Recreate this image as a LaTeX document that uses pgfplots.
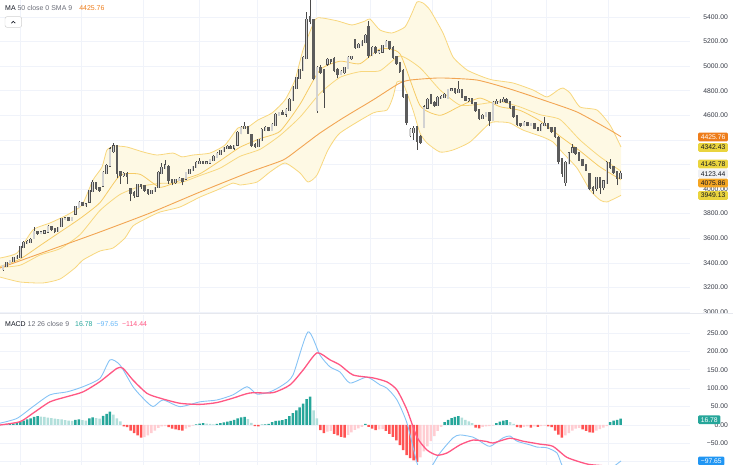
\documentclass[border=0pt]{standalone}
\usepackage{pgfplots}
\pgfplotsset{compat=1.18}
\usepackage{pgfplotstable}
\usepackage{fontspec}
\setmainfont{Liberation Sans}
\definecolor{gridc}{HTML}{F0F3FA}
\definecolor{sepc}{HTML}{E6E8EE}
\definecolor{ticktext}{HTML}{363A45}
\definecolor{legdark}{HTML}{131722}
\definecolor{leggray}{HTML}{6A6D78}
\definecolor{wickc}{HTML}{4A4A4A}
\definecolor{upedge}{HTML}{505050}
\definecolor{upfill}{HTML}{D2D2D2}
\definecolor{downfill}{HTML}{5C5C5C}
\definecolor{bbline}{HTML}{F8D77E}
\definecolor{bbfill}{HTML}{FEF9E4}
\definecolor{fastline}{HTML}{F6CB66}
\definecolor{maline}{HTML}{F2A553}
\definecolor{maorange}{HTML}{EE7D1B}
\definecolor{tagyellow}{HTML}{EAD43E}
\definecolor{tagamber}{HTML}{F5A623}
\definecolor{tagwhite}{HTML}{F0F1F4}
\definecolor{hteal}{HTML}{26A69A}
\definecolor{hlteal}{HTML}{B2DFDB}
\definecolor{hred}{HTML}{FF5252}
\definecolor{hlred}{HTML}{FFCDD2}
\definecolor{macdblue}{HTML}{86C3F5}
\definecolor{sigpink}{HTML}{FF5783}
\definecolor{tagblue}{HTML}{2196F3}

\pgfplotstableread{
x o h l c m k
3.00 3350 3385 3335 3374 2 1
6.45 3374 3410 3365 3398 3 1
9.90 3398 3425 3390 3414 3 1
13.35 3414 3450 3405 3439 4 1
16.80 3439 3462 3430 3447 6 1
20.25 3447 3540 3440 3528 8 1
23.70 3528 3575 3520 3561 12 1
27.15 3561 3585 3550 3569 15 1
30.60 3569 3600 3560 3585 18 1
34.05 3600 3690 3595 3651 22 1
37.50 3651 3660 3630 3642 24 1
40.95 3642 3658 3632 3648 23 2
44.40 3648 3665 3638 3655 22 2
47.85 3655 3705 3650 3691 20 2
51.30 3691 3700 3662 3675 19 2
54.75 3675 3685 3640 3659 17 2
58.20 3659 3695 3650 3683 16 2
61.65 3700 3768 3695 3756 15 2
65.10 3756 3770 3745 3760 13 2
68.55 3760 3765 3738 3748 12 2
72.00 3748 3775 3740 3764 11 2
75.45 3800 3865 3790 3854 14 1
78.90 3854 3900 3845 3887 15 1
82.35 3887 3895 3862 3870 13 2
85.80 3870 3885 3858 3875 12 2
89.25 3900 3995 3895 3984 18 1
92.70 3984 4070 3975 4049 21 1
96.15 4049 4055 3995 4009 19 2
99.60 4009 4020 3980 3992 17 2
103.05 4030 4145 4025 4131 25 1
106.50 4131 4200 4120 4188 30 1
109.95 4190 4340 4180 4320 36 1
113.40 4310 4378 4295 4345 28 2
116.85 4345 4360 4090 4135 18 2
120.30 4135 4150 4040 4114 10 2
123.75 4114 4140 4100 4122 -4 3
127.20 4122 4135 4040 4110 -6 3
130.65 4000 4010 3900 3968 -15 3
134.10 3968 3985 3930 3952 -22 3
137.55 3945 4045 3935 4033 -28 3
141.00 4033 4045 4000 4025 -34 3
144.45 4025 4030 3980 3992 -33 4
147.90 3992 4000 3955 3968 -28 4
151.35 3968 3995 3960 3984 -22 4
154.80 3984 4020 3978 4009 -15 4
158.25 4015 4145 4010 4131 -8 4
161.70 4131 4212 4120 4171 -4 4
165.15 4171 4236 4160 4190 -3 4
168.60 4180 4195 4040 4074 -6 3
172.05 4074 4085 4030 4057 -10 3
175.50 4057 4085 4045 4074 -12 3
178.95 4074 4095 4065 4082 -14 3
182.40 4082 4090 4030 4070 -15 3
185.85 4085 4140 4080 4131 -10 4
189.30 4131 4165 4125 4155 -6 4
192.75 4155 4190 4150 4179 -2 4
196.20 4179 4225 4170 4212 2 1
199.65 4212 4253 4205 4220 4 1
203.10 4220 4230 4200 4210 5 1
206.55 4210 4225 4200 4217 4 2
210.00 4217 4245 4205 4236 3 2
213.45 4236 4275 4228 4261 2 2
216.90 4261 4298 4255 4285 3 1
220.35 4285 4320 4280 4310 5 1
223.80 4310 4345 4300 4334 7 1
227.25 4334 4355 4325 4342 9 1
230.70 4342 4360 4330 4336 11 1
234.15 4336 4360 4320 4350 14 1
237.60 4360 4470 4350 4456 18 1
241.05 4456 4510 4445 4497 21 1
244.50 4497 4545 4490 4505 22 1
247.95 4505 4515 4450 4460 16 2
251.40 4440 4450 4340 4358 6 2
254.85 4358 4375 4335 4350 -3 3
258.30 4350 4410 4345 4399 -4 3
261.75 4399 4495 4390 4480 1 1
265.20 4480 4510 4470 4497 2 1
268.65 4497 4505 4470 4480 3 1
272.10 4480 4535 4475 4521 8 1
275.55 4521 4615 4515 4603 11 1
279.00 4603 4630 4595 4619 12 1
282.45 4619 4640 4605 4612 13 1
285.90 4612 4660 4590 4643 16 1
289.35 4643 4740 4635 4725 24 1
292.80 4725 4835 4715 4822 32 1
296.25 4822 4915 4815 4904 40 1
299.70 4904 4980 4895 4969 48 1
303.15 4969 5080 4960 5066 58 1
306.60 5066 5440 5055 5376 70 1
310.05 5395 5535 5340 5370 77 1
313.50 5370 5385 4885 4904 40 2
316.95 4643 5000 4620 4985 18 2
320.40 4985 5010 4935 4952 -14 3
323.85 4969 4975 4660 4790 -22 3
327.30 5020 5070 5000 5050 -18 4
330.75 5050 5060 5020 5040 -16 4
334.20 5060 5075 4950 4969 -24 3
337.65 4969 4985 4900 4936 -28 3
341.10 4936 4965 4925 4952 -32 3
344.55 4952 4995 4940 4985 -34 3
348.00 4985 5080 4975 5066 -27 4
351.45 5066 5085 5050 5075 -20 4
354.90 5213 5225 5140 5156 -13 4
358.35 5156 5185 5145 5172 -9 4
361.80 5172 5210 5160 5197 -5 4
365.25 5197 5260 5185 5245 3 1
368.70 5318 5370 5070 5091 -5 3
372.15 5091 5160 5080 5148 -10 3
375.60 5148 5160 5100 5115 -14 3
379.05 5115 5130 5100 5120 -12 4
382.50 5120 5175 5105 5164 -11 4
385.95 5164 5210 5155 5197 -16 3
389.40 5197 5205 5135 5148 -24 3
392.85 5148 5160 5060 5074 -32 3
396.30 5074 5085 5010 5026 -42 3
399.75 5026 5035 4945 4960 -55 3
403.20 4960 4975 4740 4760 -68 3
406.65 4760 4770 4520 4545 -82 3
410.10 4440 4500 4420 4480 -90 3
413.55 4465 4510 4400 4490 -96 3
417.00 4500 4510 4320 4395 -100 3
420.45 4420 4440 4365 4385 -88 4
423.90 4505 4680 4495 4665 -72 4
427.35 4665 4740 4655 4725 -58 4
430.80 4760 4770 4690 4700 -44 4
434.25 4700 4715 4670 4684 -30 4
437.70 4684 4755 4675 4741 -16 4
441.15 4741 4765 4735 4749 -5 4
444.60 4749 4780 4740 4765 8 1
448.05 4740 4815 4735 4806 14 1
451.50 4806 4820 4795 4812 19 1
454.95 4812 4815 4775 4790 22 1
458.40 4790 4880 4780 4806 24 1
461.85 4806 4815 4740 4749 20 2
465.30 4749 4760 4715 4725 14 2
468.75 4725 4740 4710 4730 10 2
472.20 4730 4735 4690 4700 5 2
475.65 4700 4710 4630 4643 -7 3
479.10 4643 4655 4560 4578 -9 3
482.55 4578 4610 4570 4594 -5 4
486.00 4594 4630 4585 4619 -4 4
489.45 4619 4625 4510 4562 -3 4
492.90 4562 4715 4555 4700 -2 4
496.35 4700 4730 4690 4708 5 1
499.80 4708 4730 4700 4717 9 1
503.25 4717 4750 4705 4725 12 1
506.70 4725 4740 4700 4708 13 1
510.15 4708 4715 4655 4668 8 2
513.60 4668 4675 4580 4594 3 2
517.05 4594 4600 4515 4529 -6 3
520.50 4529 4540 4505 4521 -7 3
523.95 4521 4550 4510 4537 -5 4
527.40 4537 4545 4510 4521 -4 4
530.85 4521 4540 4515 4529 -7 3
534.30 4529 4535 4485 4497 -4 4
537.75 4497 4505 4470 4480 -5 3
541.20 4480 4535 4470 4521 -3 4
544.65 4521 4587 4510 4529 -2 4
548.10 4529 4535 4485 4497 -4 3
551.55 4497 4505 4460 4472 -6 3
555.00 4497 4505 4415 4432 -15 3
558.45 4415 4430 4200 4230 -26 3
561.90 4245 4255 4100 4131 -34 3
565.35 4057 4225 4025 4212 -28 4
568.80 4212 4300 4200 4290 -22 4
572.25 4300 4370 4290 4330 -15 4
575.70 4330 4340 4280 4293 -10 4
579.15 4293 4300 4225 4236 -8 4
582.60 4236 4245 4185 4196 -12 3
586.05 4196 4205 4145 4155 -16 3
589.50 4120 4130 3990 4009 -20 3
592.95 4009 4025 3960 3992 -21 3
596.40 4009 4100 3985 4090 -15 4
599.85 4090 4095 3960 4017 -11 4
603.30 4017 4075 3990 4060 -7 4
606.75 4049 4225 4040 4212 -3 4
610.20 4212 4245 4165 4180 8 1
613.65 4180 4190 4120 4140 12 1
617.10 4140 4150 4033 4090 14 1
620.55 4090 4150 4085 4123 17 1
}\candles

\pgfplotsset{
  tvaxis/.style={
    scale only axis, width=690bp, xmin=0, xmax=690,
    axis line style={draw=none}, major tick length=0pt,
    xtick={20,81,143,199,257,316,370,432,491,546,608}, xticklabels={},
    yticklabel pos=right,
    yticklabel style={font=\fontsize{6.8}{8}\selectfont, text=ticktext, anchor=east, inner sep=0pt, xshift=38bp},
    grid=major, major grid style={draw=gridc, line width=0.6bp},
    /pgf/number format/assume math mode=true,
    clip=true},
  bodyup/.style={draw=none, mark=none,
    restrict expr to domain={\thisrow{c}-\thisrow{o}}{0:100000}},
  bodydn/.style={draw=none, mark=none,
    restrict expr to domain={\thisrow{c}-\thisrow{o}}{-100000:-0.001}},
}

\begin{document}
\raisebox{0pt}[465bp][0pt]{%
\begin{tikzpicture}[x=1bp,y=1bp,baseline={(Z)},trim left=0bp,trim right=733bp]

% ---------------- price pane ----------------
\begin{axis}[tvaxis, name=price, at={(0,151.5)}, anchor=south west, height=313.5bp,
  ymin=2987.5, ymax=5538.3,
  ytick={3000,3200,3400,3600,3800,4000,4200,4400,4600,4800,5000,5200,5400},
  yticklabels={3000.00,3200.00,3400.00,3600.00,3800.00,4000.00,,,4600.00,4800.00,5000.00,5200.00,5400.00}]

% band fill (upper band, then lower band reversed)
\addplot[fill=bbfill, draw=none] coordinates {
(0,3439) (17,3480) (33,3667) (50,3724) (67,3789) (82,3870) (93,4074) (102,4179) (107,4318) (115,4350) (127,4342) (143,4302) (157,4277) (173,4293) (182,4262) (193,4277) (210,4293) (225,4358) (238,4497) (248,4505) (258,4562) (272,4619) (285,4725) (295,4887) (303,5131) (315,5376) (322,5392) (338,5367) (352,5335) (365,5367) (370,5384) (380,5294) (392,5270) (405,5319) (412,5432) (417,5522) (423,5514) (430,5457) (443,5270) (453,5075) (467,4969) (483,4912) (493,4887) (513,4863) (533,4806) (547,4749) (558,4806) (563,4822) (570,4782) (580,4668) (597,4643) (610,4521) (621,4342.43)
(621,3949.13) (607,3895) (600,3911) (590,3992) (577,4171) (563,4293) (553,4383) (543,4423) (523,4480) (510,4537) (500,4546) (490,4537) (470,4383) (453,4318) (440,4301) (427,4375) (420,4456) (413,4643) (403,4863) (397,4871) (393,4749) (387,4643) (373,4619) (340,4456) (328,4318) (317,4114) (308,4057) (300,4131) (285,4212) (270,4139) (257,4057) (240,4033) (233,4049) (217,3992) (200,3935) (180,3854) (160,3813) (147,3764) (133,3700) (125,3602) (113,3520) (100,3496) (83,3423) (75,3358) (60,3268) (43,3236) (20,3244) (0,3284)} -- cycle;

\addplot[bbline, line width=0.8bp, smooth, tension=0.35] coordinates {
(0,3439) (17,3480) (33,3667) (50,3724) (67,3789) (82,3870) (93,4074) (102,4179) (107,4318) (115,4350) (127,4342) (143,4302) (157,4277) (173,4293) (182,4262) (193,4277) (210,4293) (225,4358) (238,4497) (248,4505) (258,4562) (272,4619) (285,4725) (295,4887) (303,5131) (315,5376) (322,5392) (338,5367) (352,5335) (365,5367) (370,5384) (380,5294) (392,5270) (405,5319) (412,5432) (417,5522) (423,5514) (430,5457) (443,5270) (453,5075) (467,4969) (483,4912) (493,4887) (513,4863) (533,4806) (547,4749) (558,4806) (563,4822) (570,4782) (580,4668) (597,4643) (610,4521) (621,4342.43)};
\addplot[bbline, line width=0.8bp, smooth, tension=0.35] coordinates {
(0,3284) (20,3244) (43,3236) (60,3268) (75,3358) (83,3423) (100,3496) (113,3520) (125,3602) (133,3700) (147,3764) (160,3813) (180,3854) (200,3935) (217,3992) (233,4049) (240,4033) (257,4057) (270,4139) (285,4212) (300,4131) (308,4057) (317,4114) (328,4318) (340,4456) (373,4619) (387,4643) (393,4749) (397,4871) (403,4863) (413,4643) (420,4456) (427,4375) (440,4301) (453,4318) (470,4383) (490,4537) (500,4546) (510,4537) (523,4480) (543,4423) (553,4383) (563,4293) (577,4171) (590,3992) (600,3911) (607,3895) (621,3949.13)};

% basis
\addplot[bbline, line width=0.8bp, smooth, tension=0.35] coordinates {
(0,3362) (20,3380) (40,3463) (60,3515) (80,3629) (100,3826) (120,3956) (140,4021) (160,4046) (180,4051) (200,4110) (220,4170) (240,4266) (260,4323) (280,4436) (300,4585) (320,4779) (340,4909) (360,4955) (380,4963) (400,5083) (420,4987) (440,4807) (460,4683) (480,4691) (500,4712) (520,4668) (540,4605) (560,4566) (580,4399) (600,4263) (621,4145.78)};
% fast average
\addplot[fastline, line width=0.8bp, smooth, tension=0.35] coordinates {
(0,3370) (20,3430) (40,3540) (60,3650) (80,3760) (100,3890) (120,4110) (140,4120) (160,4015) (180,4070) (200,4125) (220,4230) (240,4340) (260,4410) (280,4470) (300,4690) (320,4970) (340,5040) (360,5020) (380,5140) (400,5100) (420,4680) (440,4600) (460,4675) (480,4740) (500,4670) (520,4640) (540,4555) (560,4430) (580,4310) (600,4180) (621,4075.86)};
% MA 50
\addplot[maline, line width=0.9bp, smooth, tension=0.35] coordinates {
(0,3358) (50,3504) (100,3651) (150,3805) (200,3976) (250,4139) (283,4236) (300,4334) (320,4456) (343,4578) (373,4725) (390,4814) (400,4863) (410,4887) (440,4904) (477,4887) (510,4814) (543,4725) (577,4627) (610,4480) (621,4425.76)};

% wicks
\addplot[draw=none, mark=none, error bars/.cd, y dir=plus, y explicit, error mark=none,
  error bar style={line width=0.6bp, draw=wickc}]
  table[x=x, y=l, y error plus expr=\thisrow{h}-\thisrow{l}] {\candles};
% up bodies
\addplot[bodyup, error bars/.cd, y dir=plus, y explicit, error mark=none,
  error bar style={line width=2.5bp, line cap=rect, draw=upedge}]
  table[x=x, y expr={min(\thisrow{o},\thisrow{c})}, y error plus expr={abs(\thisrow{c}-\thisrow{o})}] {\candles};
\addplot[bodyup, error bars/.cd, y dir=plus, y explicit, error mark=none,
  error bar style={line width=1.3bp, line cap=rect, draw=upfill}]
  table[x=x, y expr={min(\thisrow{o},\thisrow{c})}, y error plus expr={abs(\thisrow{c}-\thisrow{o})}] {\candles};
% down bodies
\addplot[bodydn, error bars/.cd, y dir=plus, y explicit, error mark=none,
  error bar style={line width=2.5bp, line cap=rect, draw=downfill}]
  table[x=x, y expr={min(\thisrow{o},\thisrow{c})}, y error plus expr={abs(\thisrow{c}-\thisrow{o})}] {\candles};

\coordinate (O) at (rel axis cs:0,0);
\end{axis}

\coordinate (Z) at ([yshift=-151.5bp]O);

% ---------------- MACD pane ----------------
\begin{axis}[tvaxis, name=macd, at={(Z)}, anchor=south west, height=150bp,
  ymin=-108.7, ymax=298.9,
  ytick={-100,-50,0,50,100,150,200,250,300},
  yticklabels={,−50.00,0.00,50.00,100.00,150.00,200.00,250.00,300.00}]
\addplot[ybar, bar width=2.5bp, bar shift=0pt, fill=hteal, draw=none,
  restrict expr to domain={\thisrow{k}}{0.5:1.5}] table[x=x, y=m] {\candles};
\addplot[ybar, bar width=2.5bp, bar shift=0pt, fill=hlteal, draw=none,
  restrict expr to domain={\thisrow{k}}{1.5:2.5}] table[x=x, y=m] {\candles};
\addplot[ybar, bar width=2.5bp, bar shift=0pt, fill=hred, draw=none,
  restrict expr to domain={\thisrow{k}}{2.5:3.5}] table[x=x, y=m] {\candles};
\addplot[ybar, bar width=2.5bp, bar shift=0pt, fill=hlred, draw=none,
  restrict expr to domain={\thisrow{k}}{3.5:4.5}] table[x=x, y=m] {\candles};
% MACD line
\addplot[macdblue, line width=0.9bp, smooth, tension=0.4] coordinates {
(0,5) (17,18) (33,50) (50,82) (67,90) (83,104) (100,127) (110,177) (120,163) (133,104) (143,73) (153,50) (163,68) (180,50) (200,63) (217,68) (233,82) (247,104) (257,84) (270,90) (283,109) (293,136) (308,253) (320,190) (330,158) (340,144) (350,114) (367,130) (380,109) (387,100) (397,68) (407,5) (417,-103) (423,-140) (430,-120) (440,-76) (453,-35) (460,-27) (473,-33) (480,-44) (490,-58) (503,-35) (510,-30) (517,-44) (530,-54) (537,-60) (547,-62) (557,-76) (562,-109) (570,-135) (590,-150) (605,-130) (621,-97.65)};
% signal line
\addplot[sigpink, line width=1.3bp, smooth, tension=0.4] coordinates {
(0,0) (20,9) (33,32) (50,63) (67,77) (83,90) (100,118) (117,154) (123,154) (133,122) (147,86) (160,73) (180,59) (200,56) (217,61) (233,73) (250,87) (273,88) (290,109) (303,149) (317,196) (330,177) (340,163) (353,136) (373,128) (387,117) (397,95) (407,41) (417,-33) (427,-68) (437,-82) (447,-76) (460,-54) (473,-41) (487,-45) (493,-49) (510,-36) (523,-44) (540,-52) (553,-58) (567,-88) (587,-106) (600,-110) (621,-114.44)};
\end{axis}

\begin{scope}[shift={(Z)}]
% pane separator
\draw[sepc, line width=1.4bp] (0,151.2) -- (733,151.2);

% legends
\node[anchor=west, inner sep=0pt, font=\fontsize{7}{8}\selectfont] at (5,456.5)
  {\textcolor{legdark}{MA}\ \textcolor{leggray}{50 close 0 SMA 9}\hspace{7bp}\textcolor{maorange}{4425.76}};
\draw[rounded corners=2bp, draw=black!18, fill=white, line width=0.5bp] (5,437.7) rectangle (21.7,448.3);
\draw[legdark, line width=0.6bp] (11.4,441.8) -- (13.35,443.7) -- (15.3,441.8);
\node[anchor=west, inner sep=0pt, font=\fontsize{7}{8}\selectfont] at (5,141)
  {\textcolor{legdark}{MACD}\ \textcolor{leggray}{12 26 close 9}\hspace{6bp}\textcolor{hteal}{16.78}\hspace{4bp}\textcolor{tagblue!70}{−97.65}\hspace{4bp}\textcolor{sigpink}{−114.44}};

% price tags
\tikzset{tag/.style={anchor=west, rounded corners=1.2bp, inner xsep=2.6bp, inner ysep=0pt,
  minimum height=8.8bp, text height=4.9bp, text depth=0pt, font=\fontsize{6.8}{8}\selectfont}}
\node[tag, fill=maorange, text=white] at (698,328) {4425.76};
\node[tag, fill=tagyellow, text=legdark] at (698,317.5) {4342.43};
\node[tag, fill=tagyellow, text=legdark] at (698,301) {4145.78};
\node[tag, fill=tagwhite, text=legdark] at (698,291.3) {4123.44};
\node[tag, fill=tagamber, text=legdark] at (698,282) {4075.86};
\node[tag, fill=tagyellow, text=legdark] at (698,269.5) {3949.13};
\node[tag, fill=hteal, text=white] at (698,45.3) {16.78};
\node[tag, fill=tagblue, text=white] at (698,4) {−97.65};
\end{scope}
\end{tikzpicture}}
\end{document}
